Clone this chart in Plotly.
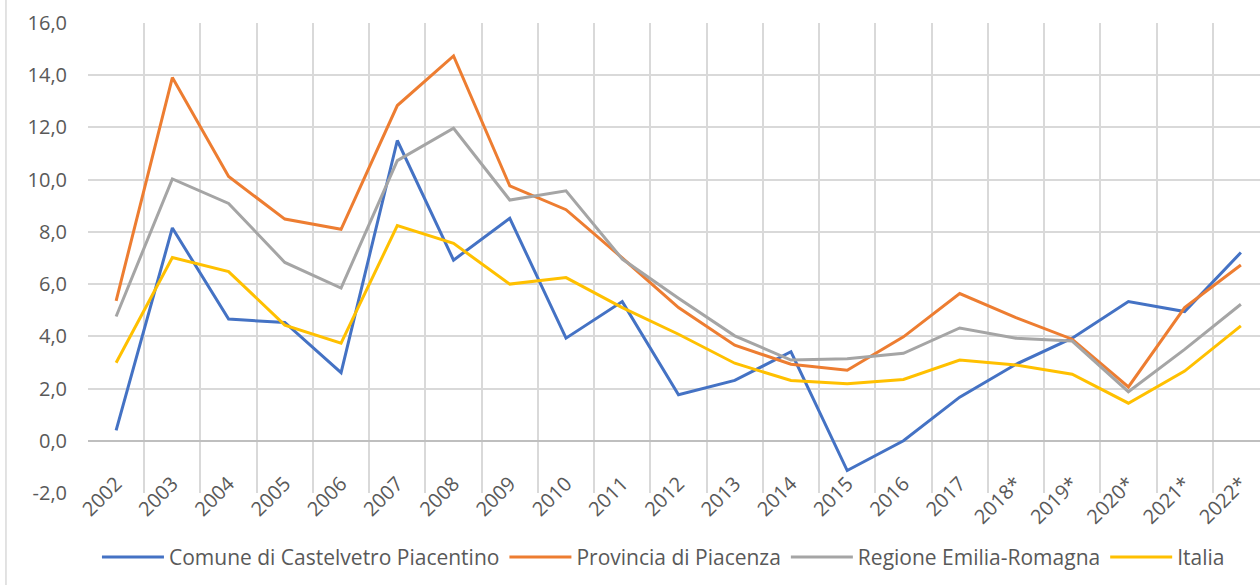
import plotly.graph_objects as go

years = ["2002", "2003", "2004", "2005", "2006", "2007", "2008", "2009", "2010", "2011",
         "2012", "2013", "2014", "2015", "2016", "2017", "2018*", "2019*", "2020*", "2021*", "2022*"]

comune = [0.4, 8.15, 4.66, 4.53, 2.61, 11.5, 6.92, 8.52, 3.93, 5.33,
          1.76, 2.31, 3.41, -1.14, 0.0, 1.67, 2.93, 3.93, 5.33, 4.95, 7.21]
provincia = [5.36, 13.91, 10.12, 8.49, 8.1, 12.84, 14.74, 9.76, 8.85, 7.0,
             5.1, 3.66, 2.93, 2.7, 3.98, 5.64, 4.72, 3.89, 2.06, 5.1, 6.73]
regione = [4.76, 10.03, 9.09, 6.83, 5.85, 10.73, 11.97, 9.22, 9.57, 6.96,
           5.46, 4.02, 3.09, 3.14, 3.35, 4.32, 3.93, 3.82, 1.88, 3.5, 5.23]
italia = [2.99, 7.02, 6.48, 4.43, 3.74, 8.24, 7.56, 6.0, 6.25, 5.1,
          4.08, 2.97, 2.31, 2.18, 2.35, 3.09, 2.9, 2.55, 1.44, 2.67, 4.4]

y_ticks = [-2, 0, 2, 4, 6, 8, 10, 12, 14, 16]
y_ticktext = [f"{v:.1f}".replace(".", ",") for v in y_ticks]

series = [
    ("Comune di Castelvetro Piacentino", comune, "#4472C4"),
    ("Provincia di Piacenza", provincia, "#ED7D31"),
    ("Regione Emilia-Romagna", regione, "#A5A5A5"),
    ("Italia", italia, "#FFC000"),
]

FONT = "'Open Sans', Lato, sans-serif"
TXT = "#595959"

fig = go.Figure()
for name, vals, col in series:
    fig.add_trace(go.Scatter(x=years, y=vals, mode="lines", name=name,
                             line=dict(color=col, width=3)))

fig.update_layout(
    width=1260, height=585,
    margin=dict(l=88, r=0, t=23, b=92, autoexpand=False),
    paper_bgcolor="white", plot_bgcolor="white",
    font=dict(family=FONT, size=20, color=TXT),
    showlegend=True,
    legend=dict(orientation="h", x=0.491, y=-0.137, xanchor="center", yanchor="middle",
                font=dict(family=FONT, size=21, color=TXT),
                itemwidth=62, tracegroupgap=0),
    xaxis=dict(type="category", range=[-0.5, 20.34], tickson="boundaries",
               showgrid=True, gridcolor="#D9D9D9", gridwidth=1.5,
               ticks="", tickangle=-45, showline=False, zeroline=False,
               automargin=False, anchor="free", position=0.055,
               tickfont=dict(family=FONT, size=20, color=TXT)),
    yaxis=dict(range=[-2, 16], tickmode="array", tickvals=y_ticks, ticktext=y_ticktext,
               showgrid=True, gridcolor="#D9D9D9", gridwidth=1.5,
               zeroline=True, zerolinecolor="#BFBFBF", zerolinewidth=1.5,
               ticks="", showline=False, ticklabelstandoff=20,
               automargin=False,
               tickfont=dict(family=FONT, size=20, color=TXT)),
)

fig.add_shape(type="line", xref="paper", yref="paper",
              x0=-0.07, x1=-0.07, y0=-0.2, y1=1.06,
              line=dict(color="#D9D9D9", width=1.5))

fig.write_html("out.html", config={"displayModeBar": False},
               post_script="document.body.style.margin='0';")
